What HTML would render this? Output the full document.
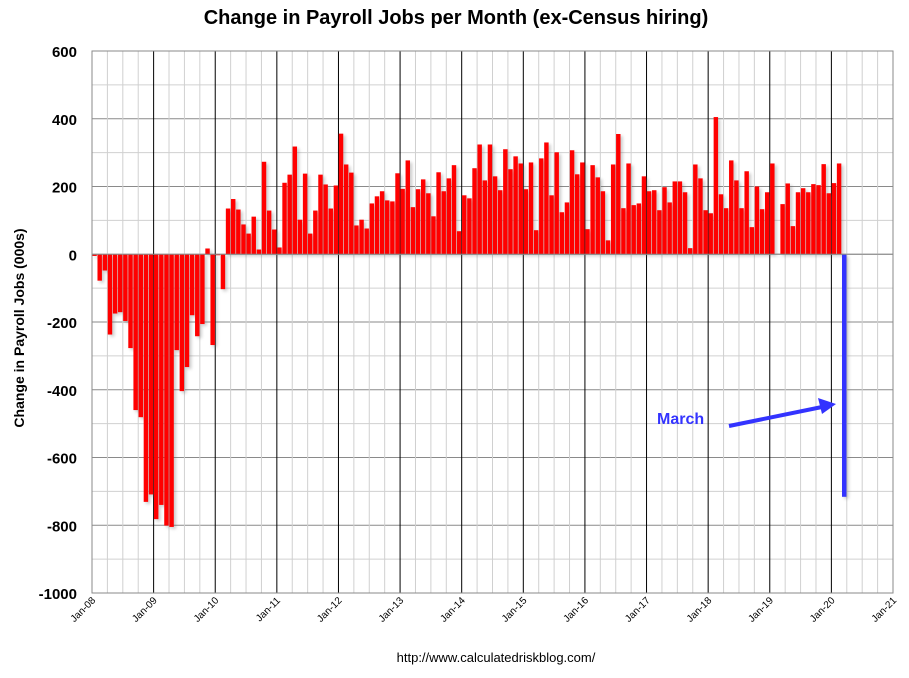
<!DOCTYPE html>
<html><head><meta charset="utf-8"><style>
body{margin:0;background:#fff;}
svg text{font-family:"Liberation Sans",Arial,sans-serif;}
</style></head><body>
<svg id="chart" width="909" height="673" xmlns="http://www.w3.org/2000/svg">
<defs><filter id="sh" x="-50%" y="-10%" width="200%" height="120%"><feGaussianBlur stdDeviation="1.5"/></filter></defs>
<text x="456" y="24" text-anchor="middle" font-size="20" font-weight="bold" fill="#000">Change in Payroll Jobs per Month (ex-Census hiring)</text>
<g id="grid"></g>
<g id="shadows" filter="url(#sh)" opacity="0.35"></g>
<g id="bars"></g>
<g id="axes"></g>
<text transform="translate(24,328) rotate(-90)" text-anchor="middle" font-size="14" font-weight="bold">Change in Payroll Jobs (000s)</text>
<text x="496" y="662" text-anchor="middle" font-size="13">http://www.calculatedriskblog.com/</text>
<text x="657" y="424" font-size="16" font-weight="bold" fill="#3333ff">March</text>
<line x1="729" y1="426" x2="822" y2="407" stroke="#3333ff" stroke-width="4"/>
<polygon points="836,404 818,398 822,414" fill="#3333ff"/>
</svg>
<script>
const startYear = 2008;
const yTicks = [600,400,200,0,-200,-400,-600,-800,-1000];
const xTickLabels = ["Jan-08","Jan-09","Jan-10","Jan-11","Jan-12","Jan-13","Jan-14","Jan-15","Jan-16","Jan-17","Jan-18","Jan-19","Jan-20","Jan-21"];
const jobs2008 = [-5,-78,-48,-237,-175,-171,-197,-277,-460,-481,-731,-709];
const jobs2009 = [-782,-740,-801,-805,-283,-404,-333,-180,-242,-206,17,-268];
const jobs2010 = [-3,-103,135,163,132,88,61,111,14,273,129,73];
const jobs2011 = [20,211,235,318,102,238,61,129,235,206,135,203];
const jobs2012 = [356,265,241,85,102,76,150,171,186,159,156,239];
const jobs2013 = [193,277,139,192,221,180,112,242,186,224,263,68];
const jobs2014 = [174,165,254,324,218,324,230,189,310,251,289,268];
const jobs2015 = [192,271,71,283,330,174,301,124,153,307,236,271];
const jobs2016 = [74,263,227,186,41,265,355,136,268,145,150,230];
const jobs2017 = [186,189,130,198,153,215,215,183,18,265,224,130];
const jobs2018 = [121,405,177,136,277,218,136,245,80,200,133,183];
const jobs2019 = [268,1,148,209,83,183,195,183,207,204,266,180];
const jobs2020 = [210,268,-716];
const series = [].concat(jobs2008,jobs2009,jobs2010,jobs2011,jobs2012,jobs2013,jobs2014,jobs2015,jobs2016,jobs2017,jobs2018,jobs2019,jobs2020);

const NS="http://www.w3.org/2000/svg";
const L=92,R=893,T=51,B=593,ymax=600,ymin=-1000;
const months=xTickLabels.length*12-12;
const mw=(R-L)/months;
function y(v){return T+(ymax-v)*(B-T)/(ymax-ymin);}
function x(i){return L+i*mw;}
function mk(tag,attrs,parent){const e=document.createElementNS(NS,tag);for(const k in attrs)e.setAttribute(k,attrs[k]);parent.appendChild(e);return e;}
const grid=document.getElementById('grid'),axes=document.getElementById('axes'),bars=document.getElementById('bars'),sh=document.getElementById('shadows');
for(let v=ymin;v<=ymax;v+=100){const l=mk('line',{x1:L,x2:R,y1:y(v),y2:y(v),stroke:(v%200===0)?'#8a8a8a':'#d0d0d0','stroke-width':1},grid);

}
for(let i=0;i<=months;i+=3){const isY=i%12===0;const l=mk('line',{x1:x(i),x2:x(i),y1:T,y2:B,stroke:isY?'#000':'#d0d0d0','stroke-width':1},grid);

}
mk('rect',{x:L,y:T,width:R-L,height:B-T,fill:'none',stroke:'#8a8a8a'},axes);
yTicks.forEach(v=>{const t=mk('text',{x:77,y:y(v)+6,'text-anchor':'end','font-size':15,'font-weight':'bold'},axes);t.textContent=v;

});
xTickLabels.forEach((s,k)=>{const px=x(k*12);const t=mk('text',{'text-anchor':'end','font-size':10,transform:`translate(${px+4},${B+8}) rotate(-45)`},axes);t.textContent=s;

});
series.forEach((v,i)=>{const y0=y(0),yv=y(v);const top=Math.min(y0,yv),h=Math.max(Math.abs(yv-y0),0.5);
const last=i===series.length-1;
mk('rect',{x:x(i)+2.5,y:top+2,width:mw-0.7,height:h,fill:'#666'},sh);
const r=mk('rect',{x:x(i)+0.35,y:top,width:mw-0.7,height:h,fill:last?'#3333ff':'#ff0000'},bars);

});
mk('line',{x1:L,x2:R,y1:y(0),y2:y(0),stroke:'#8a8a8a','stroke-width':1},axes);
</script>
</body></html>
